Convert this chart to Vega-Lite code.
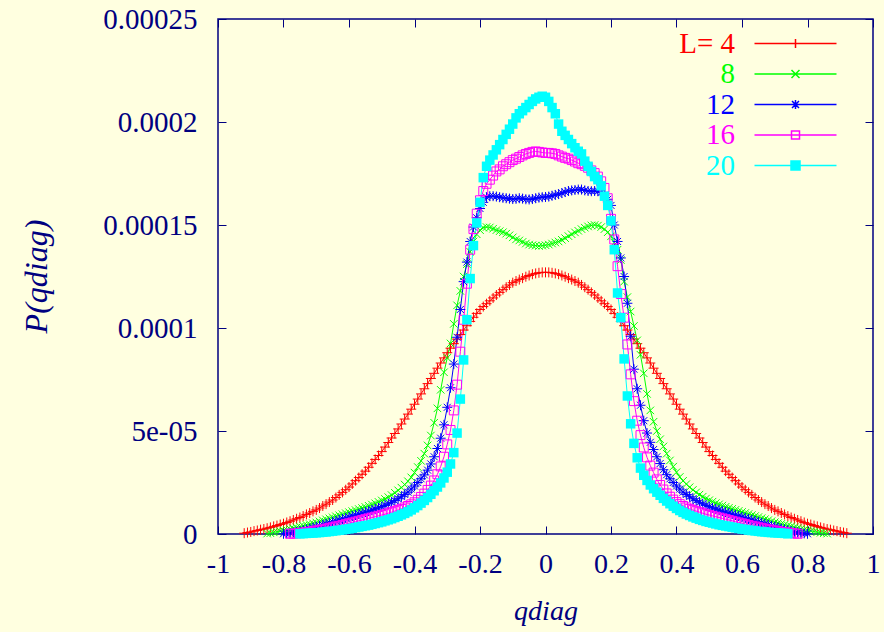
{
"$schema":"https://vega.github.io/schema/vega-lite/v6.json",
"width":655,"height":515,
"autosize":"none",
"padding":{"left":218,"top":19,"right":11,"bottom":98},
"background":"#ffffe0",
"config":{"view":{"stroke":"#000080","strokeWidth":1.5},"font":"Liberation Serif"},
"data":{"values":[
{"L":4,"q":-0.92,"p":0.004e-4},{"L":4,"q":-0.91,"p":0.007e-4},{"L":4,"q":-0.9,"p":0.010e-4},{"L":4,"q":-0.89,"p":0.014e-4},{"L":4,"q":-0.88,"p":0.017e-4},{"L":4,"q":-0.87,"p":0.021e-4},{"L":4,"q":-0.86,"p":0.024e-4},{"L":4,"q":-0.85,"p":0.028e-4},{"L":4,"q":-0.84,"p":0.032e-4},{"L":4,"q":-0.83,"p":0.037e-4},{"L":4,"q":-0.82,"p":0.041e-4},{"L":4,"q":-0.81,"p":0.046e-4},{"L":4,"q":-0.8,"p":0.050e-4},{"L":4,"q":-0.79,"p":0.056e-4},{"L":4,"q":-0.78,"p":0.062e-4},{"L":4,"q":-0.77,"p":0.068e-4},{"L":4,"q":-0.76,"p":0.074e-4},{"L":4,"q":-0.75,"p":0.080e-4},{"L":4,"q":-0.74,"p":0.087e-4},{"L":4,"q":-0.73,"p":0.095e-4},{"L":4,"q":-0.72,"p":0.102e-4},{"L":4,"q":-0.71,"p":0.110e-4},{"L":4,"q":-0.7,"p":0.117e-4},{"L":4,"q":-0.69,"p":0.126e-4},{"L":4,"q":-0.68,"p":0.136e-4},{"L":4,"q":-0.67,"p":0.145e-4},{"L":4,"q":-0.66,"p":0.155e-4},{"L":4,"q":-0.65,"p":0.165e-4},{"L":4,"q":-0.64,"p":0.177e-4},{"L":4,"q":-0.63,"p":0.190e-4},{"L":4,"q":-0.62,"p":0.202e-4},{"L":4,"q":-0.61,"p":0.215e-4},{"L":4,"q":-0.6,"p":0.228e-4},{"L":4,"q":-0.59,"p":0.243e-4},{"L":4,"q":-0.58,"p":0.259e-4},{"L":4,"q":-0.57,"p":0.274e-4},{"L":4,"q":-0.56,"p":0.290e-4},{"L":4,"q":-0.55,"p":0.305e-4},{"L":4,"q":-0.54,"p":0.324e-4},{"L":4,"q":-0.53,"p":0.343e-4},{"L":4,"q":-0.52,"p":0.362e-4},{"L":4,"q":-0.51,"p":0.381e-4},{"L":4,"q":-0.5,"p":0.400e-4},{"L":4,"q":-0.49,"p":0.422e-4},{"L":4,"q":-0.48,"p":0.444e-4},{"L":4,"q":-0.47,"p":0.466e-4},{"L":4,"q":-0.46,"p":0.488e-4},{"L":4,"q":-0.45,"p":0.510e-4},{"L":4,"q":-0.44,"p":0.534e-4},{"L":4,"q":-0.43,"p":0.558e-4},{"L":4,"q":-0.42,"p":0.582e-4},{"L":4,"q":-0.41,"p":0.606e-4},{"L":4,"q":-0.4,"p":0.630e-4},{"L":4,"q":-0.39,"p":0.655e-4},{"L":4,"q":-0.38,"p":0.680e-4},{"L":4,"q":-0.37,"p":0.705e-4},{"L":4,"q":-0.36,"p":0.730e-4},{"L":4,"q":-0.35,"p":0.755e-4},{"L":4,"q":-0.34,"p":0.780e-4},{"L":4,"q":-0.33,"p":0.805e-4},{"L":4,"q":-0.32,"p":0.830e-4},{"L":4,"q":-0.31,"p":0.855e-4},{"L":4,"q":-0.3,"p":0.880e-4},{"L":4,"q":-0.29,"p":0.902e-4},{"L":4,"q":-0.28,"p":0.924e-4},{"L":4,"q":-0.27,"p":0.946e-4},{"L":4,"q":-0.26,"p":0.968e-4},{"L":4,"q":-0.25,"p":0.990e-4},{"L":4,"q":-0.24,"p":1.011e-4},{"L":4,"q":-0.23,"p":1.032e-4},{"L":4,"q":-0.22,"p":1.052e-4},{"L":4,"q":-0.21,"p":1.071e-4},{"L":4,"q":-0.2,"p":1.090e-4},{"L":4,"q":-0.19,"p":1.104e-4},{"L":4,"q":-0.18,"p":1.118e-4},{"L":4,"q":-0.17,"p":1.132e-4},{"L":4,"q":-0.16,"p":1.146e-4},{"L":4,"q":-0.15,"p":1.160e-4},{"L":4,"q":-0.14,"p":1.173e-4},{"L":4,"q":-0.13,"p":1.186e-4},{"L":4,"q":-0.12,"p":1.198e-4},{"L":4,"q":-0.11,"p":1.209e-4},{"L":4,"q":-0.1,"p":1.220e-4},{"L":4,"q":-0.09,"p":1.228e-4},{"L":4,"q":-0.08,"p":1.235e-4},{"L":4,"q":-0.07,"p":1.242e-4},{"L":4,"q":-0.06,"p":1.249e-4},{"L":4,"q":-0.05,"p":1.255e-4},{"L":4,"q":-0.04,"p":1.261e-4},{"L":4,"q":-0.03,"p":1.265e-4},{"L":4,"q":-0.02,"p":1.268e-4},{"L":4,"q":-0.01,"p":1.270e-4},
{"L":4,"q":0,"p":1.270e-4},{"L":4,"q":0.01,"p":1.270e-4},{"L":4,"q":0.02,"p":1.268e-4},{"L":4,"q":0.03,"p":1.265e-4},{"L":4,"q":0.04,"p":1.261e-4},{"L":4,"q":0.05,"p":1.255e-4},{"L":4,"q":0.06,"p":1.249e-4},{"L":4,"q":0.07,"p":1.242e-4},{"L":4,"q":0.08,"p":1.235e-4},{"L":4,"q":0.09,"p":1.228e-4},{"L":4,"q":0.1,"p":1.220e-4},{"L":4,"q":0.11,"p":1.209e-4},{"L":4,"q":0.12,"p":1.198e-4},{"L":4,"q":0.13,"p":1.186e-4},{"L":4,"q":0.14,"p":1.173e-4},{"L":4,"q":0.15,"p":1.160e-4},{"L":4,"q":0.16,"p":1.146e-4},{"L":4,"q":0.17,"p":1.132e-4},{"L":4,"q":0.18,"p":1.118e-4},{"L":4,"q":0.19,"p":1.104e-4},{"L":4,"q":0.2,"p":1.090e-4},{"L":4,"q":0.21,"p":1.071e-4},{"L":4,"q":0.22,"p":1.052e-4},{"L":4,"q":0.23,"p":1.032e-4},{"L":4,"q":0.24,"p":1.011e-4},{"L":4,"q":0.25,"p":0.990e-4},{"L":4,"q":0.26,"p":0.968e-4},{"L":4,"q":0.27,"p":0.946e-4},{"L":4,"q":0.28,"p":0.924e-4},{"L":4,"q":0.29,"p":0.902e-4},{"L":4,"q":0.3,"p":0.880e-4},{"L":4,"q":0.31,"p":0.855e-4},{"L":4,"q":0.32,"p":0.830e-4},{"L":4,"q":0.33,"p":0.805e-4},{"L":4,"q":0.34,"p":0.780e-4},{"L":4,"q":0.35,"p":0.755e-4},{"L":4,"q":0.36,"p":0.730e-4},{"L":4,"q":0.37,"p":0.705e-4},{"L":4,"q":0.38,"p":0.680e-4},{"L":4,"q":0.39,"p":0.655e-4},{"L":4,"q":0.4,"p":0.630e-4},{"L":4,"q":0.41,"p":0.606e-4},{"L":4,"q":0.42,"p":0.582e-4},{"L":4,"q":0.43,"p":0.558e-4},{"L":4,"q":0.44,"p":0.534e-4},{"L":4,"q":0.45,"p":0.510e-4},{"L":4,"q":0.46,"p":0.488e-4},{"L":4,"q":0.47,"p":0.466e-4},{"L":4,"q":0.48,"p":0.444e-4},{"L":4,"q":0.49,"p":0.422e-4},{"L":4,"q":0.5,"p":0.400e-4},{"L":4,"q":0.51,"p":0.381e-4},{"L":4,"q":0.52,"p":0.362e-4},{"L":4,"q":0.53,"p":0.343e-4},{"L":4,"q":0.54,"p":0.324e-4},{"L":4,"q":0.55,"p":0.305e-4},{"L":4,"q":0.56,"p":0.290e-4},{"L":4,"q":0.57,"p":0.274e-4},{"L":4,"q":0.58,"p":0.259e-4},{"L":4,"q":0.59,"p":0.243e-4},{"L":4,"q":0.6,"p":0.228e-4},{"L":4,"q":0.61,"p":0.215e-4},{"L":4,"q":0.62,"p":0.202e-4},{"L":4,"q":0.63,"p":0.190e-4},{"L":4,"q":0.64,"p":0.177e-4},{"L":4,"q":0.65,"p":0.165e-4},{"L":4,"q":0.66,"p":0.155e-4},{"L":4,"q":0.67,"p":0.145e-4},{"L":4,"q":0.68,"p":0.136e-4},{"L":4,"q":0.69,"p":0.126e-4},{"L":4,"q":0.7,"p":0.117e-4},{"L":4,"q":0.71,"p":0.110e-4},{"L":4,"q":0.72,"p":0.102e-4},{"L":4,"q":0.73,"p":0.095e-4},{"L":4,"q":0.74,"p":0.087e-4},{"L":4,"q":0.75,"p":0.080e-4},{"L":4,"q":0.76,"p":0.074e-4},{"L":4,"q":0.77,"p":0.068e-4},{"L":4,"q":0.78,"p":0.062e-4},{"L":4,"q":0.79,"p":0.056e-4},{"L":4,"q":0.8,"p":0.050e-4},{"L":4,"q":0.81,"p":0.046e-4},{"L":4,"q":0.82,"p":0.041e-4},{"L":4,"q":0.83,"p":0.037e-4},{"L":4,"q":0.84,"p":0.032e-4},{"L":4,"q":0.85,"p":0.028e-4},{"L":4,"q":0.86,"p":0.024e-4},{"L":4,"q":0.87,"p":0.021e-4},{"L":4,"q":0.88,"p":0.017e-4},{"L":4,"q":0.89,"p":0.014e-4},{"L":4,"q":0.9,"p":0.010e-4},{"L":4,"q":0.91,"p":0.007e-4},{"L":4,"q":0.92,"p":0.004e-4},
{"L":8,"q":-0.85,"p":0.002e-4},{"L":8,"q":-0.84,"p":0.004e-4},{"L":8,"q":-0.83,"p":0.008e-4},{"L":8,"q":-0.82,"p":0.011e-4},{"L":8,"q":-0.81,"p":0.014e-4},{"L":8,"q":-0.8,"p":0.017e-4},{"L":8,"q":-0.79,"p":0.020e-4},{"L":8,"q":-0.78,"p":0.024e-4},{"L":8,"q":-0.77,"p":0.028e-4},{"L":8,"q":-0.76,"p":0.032e-4},{"L":8,"q":-0.75,"p":0.036e-4},{"L":8,"q":-0.74,"p":0.040e-4},{"L":8,"q":-0.73,"p":0.044e-4},{"L":8,"q":-0.72,"p":0.048e-4},{"L":8,"q":-0.71,"p":0.052e-4},{"L":8,"q":-0.7,"p":0.056e-4},{"L":8,"q":-0.69,"p":0.061e-4},{"L":8,"q":-0.68,"p":0.066e-4},{"L":8,"q":-0.67,"p":0.071e-4},{"L":8,"q":-0.66,"p":0.076e-4},{"L":8,"q":-0.65,"p":0.081e-4},{"L":8,"q":-0.64,"p":0.086e-4},{"L":8,"q":-0.63,"p":0.091e-4},{"L":8,"q":-0.62,"p":0.096e-4},{"L":8,"q":-0.61,"p":0.101e-4},{"L":8,"q":-0.6,"p":0.106e-4},{"L":8,"q":-0.59,"p":0.111e-4},{"L":8,"q":-0.58,"p":0.116e-4},{"L":8,"q":-0.57,"p":0.121e-4},{"L":8,"q":-0.56,"p":0.126e-4},{"L":8,"q":-0.55,"p":0.131e-4},{"L":8,"q":-0.54,"p":0.137e-4},{"L":8,"q":-0.53,"p":0.143e-4},{"L":8,"q":-0.52,"p":0.149e-4},{"L":8,"q":-0.51,"p":0.156e-4},{"L":8,"q":-0.5,"p":0.163e-4},{"L":8,"q":-0.49,"p":0.170e-4},{"L":8,"q":-0.48,"p":0.179e-4},{"L":8,"q":-0.47,"p":0.189e-4},{"L":8,"q":-0.46,"p":0.200e-4},{"L":8,"q":-0.45,"p":0.212e-4},{"L":8,"q":-0.44,"p":0.225e-4},{"L":8,"q":-0.43,"p":0.240e-4},{"L":8,"q":-0.42,"p":0.256e-4},{"L":8,"q":-0.41,"p":0.275e-4},{"L":8,"q":-0.4,"p":0.298e-4},{"L":8,"q":-0.39,"p":0.325e-4},{"L":8,"q":-0.38,"p":0.355e-4},{"L":8,"q":-0.37,"p":0.390e-4},{"L":8,"q":-0.36,"p":0.430e-4},{"L":8,"q":-0.35,"p":0.478e-4},{"L":8,"q":-0.34,"p":0.540e-4},{"L":8,"q":-0.33,"p":0.610e-4},{"L":8,"q":-0.32,"p":0.700e-4},{"L":8,"q":-0.31,"p":0.785e-4},{"L":8,"q":-0.3,"p":0.855e-4},{"L":8,"q":-0.29,"p":0.925e-4},{"L":8,"q":-0.28,"p":1.020e-4},{"L":8,"q":-0.27,"p":1.110e-4},{"L":8,"q":-0.26,"p":1.180e-4},{"L":8,"q":-0.25,"p":1.250e-4},{"L":8,"q":-0.24,"p":1.310e-4},{"L":8,"q":-0.23,"p":1.370e-4},{"L":8,"q":-0.22,"p":1.420e-4},{"L":8,"q":-0.21,"p":1.455e-4},{"L":8,"q":-0.2,"p":1.475e-4},{"L":8,"q":-0.19,"p":1.487e-4},{"L":8,"q":-0.18,"p":1.490e-4},{"L":8,"q":-0.17,"p":1.488e-4},{"L":8,"q":-0.16,"p":1.482e-4},{"L":8,"q":-0.15,"p":1.475e-4},{"L":8,"q":-0.14,"p":1.470e-4},{"L":8,"q":-0.13,"p":1.465e-4},{"L":8,"q":-0.12,"p":1.458e-4},{"L":8,"q":-0.11,"p":1.450e-4},{"L":8,"q":-0.1,"p":1.440e-4},{"L":8,"q":-0.09,"p":1.430e-4},{"L":8,"q":-0.08,"p":1.425e-4},{"L":8,"q":-0.07,"p":1.418e-4},{"L":8,"q":-0.06,"p":1.410e-4},{"L":8,"q":-0.05,"p":1.405e-4},{"L":8,"q":-0.04,"p":1.402e-4},{"L":8,"q":-0.03,"p":1.400e-4},{"L":8,"q":-0.02,"p":1.398e-4},{"L":8,"q":-0.01,"p":1.400e-4},
{"L":8,"q":0,"p":1.402e-4},{"L":8,"q":0.01,"p":1.405e-4},{"L":8,"q":0.02,"p":1.410e-4},{"L":8,"q":0.03,"p":1.415e-4},{"L":8,"q":0.04,"p":1.420e-4},{"L":8,"q":0.05,"p":1.428e-4},{"L":8,"q":0.06,"p":1.436e-4},{"L":8,"q":0.07,"p":1.446e-4},{"L":8,"q":0.08,"p":1.455e-4},{"L":8,"q":0.09,"p":1.464e-4},{"L":8,"q":0.1,"p":1.472e-4},{"L":8,"q":0.11,"p":1.480e-4},{"L":8,"q":0.12,"p":1.487e-4},{"L":8,"q":0.13,"p":1.493e-4},{"L":8,"q":0.14,"p":1.498e-4},{"L":8,"q":0.15,"p":1.500e-4},{"L":8,"q":0.16,"p":1.497e-4},{"L":8,"q":0.17,"p":1.490e-4},{"L":8,"q":0.18,"p":1.480e-4},{"L":8,"q":0.19,"p":1.465e-4},{"L":8,"q":0.2,"p":1.445e-4},{"L":8,"q":0.21,"p":1.415e-4},{"L":8,"q":0.22,"p":1.380e-4},{"L":8,"q":0.23,"p":1.330e-4},{"L":8,"q":0.24,"p":1.225e-4},{"L":8,"q":0.25,"p":1.150e-4},{"L":8,"q":0.26,"p":1.080e-4},{"L":8,"q":0.27,"p":1.010e-4},{"L":8,"q":0.28,"p":0.940e-4},{"L":8,"q":0.29,"p":0.870e-4},{"L":8,"q":0.3,"p":0.780e-4},{"L":8,"q":0.31,"p":0.680e-4},{"L":8,"q":0.32,"p":0.600e-4},{"L":8,"q":0.33,"p":0.545e-4},{"L":8,"q":0.34,"p":0.500e-4},{"L":8,"q":0.35,"p":0.460e-4},{"L":8,"q":0.36,"p":0.425e-4},{"L":8,"q":0.37,"p":0.390e-4},{"L":8,"q":0.38,"p":0.357e-4},{"L":8,"q":0.39,"p":0.327e-4},{"L":8,"q":0.4,"p":0.300e-4},{"L":8,"q":0.41,"p":0.277e-4},{"L":8,"q":0.42,"p":0.258e-4},{"L":8,"q":0.43,"p":0.242e-4},{"L":8,"q":0.44,"p":0.227e-4},{"L":8,"q":0.45,"p":0.214e-4},{"L":8,"q":0.46,"p":0.202e-4},{"L":8,"q":0.47,"p":0.191e-4},{"L":8,"q":0.48,"p":0.181e-4},{"L":8,"q":0.49,"p":0.172e-4},{"L":8,"q":0.5,"p":0.164e-4},{"L":8,"q":0.51,"p":0.157e-4},{"L":8,"q":0.52,"p":0.150e-4},{"L":8,"q":0.53,"p":0.144e-4},{"L":8,"q":0.54,"p":0.138e-4},{"L":8,"q":0.55,"p":0.132e-4},{"L":8,"q":0.56,"p":0.127e-4},{"L":8,"q":0.57,"p":0.122e-4},{"L":8,"q":0.58,"p":0.117e-4},{"L":8,"q":0.59,"p":0.112e-4},{"L":8,"q":0.6,"p":0.107e-4},{"L":8,"q":0.61,"p":0.102e-4},{"L":8,"q":0.62,"p":0.097e-4},{"L":8,"q":0.63,"p":0.092e-4},{"L":8,"q":0.64,"p":0.087e-4},{"L":8,"q":0.65,"p":0.082e-4},{"L":8,"q":0.66,"p":0.077e-4},{"L":8,"q":0.67,"p":0.072e-4},{"L":8,"q":0.68,"p":0.067e-4},{"L":8,"q":0.69,"p":0.062e-4},{"L":8,"q":0.7,"p":0.057e-4},{"L":8,"q":0.71,"p":0.053e-4},{"L":8,"q":0.72,"p":0.049e-4},{"L":8,"q":0.73,"p":0.045e-4},{"L":8,"q":0.74,"p":0.041e-4},{"L":8,"q":0.75,"p":0.037e-4},{"L":8,"q":0.76,"p":0.033e-4},{"L":8,"q":0.77,"p":0.029e-4},{"L":8,"q":0.78,"p":0.025e-4},{"L":8,"q":0.79,"p":0.021e-4},{"L":8,"q":0.8,"p":0.018e-4},{"L":8,"q":0.81,"p":0.015e-4},{"L":8,"q":0.82,"p":0.012e-4},{"L":8,"q":0.83,"p":0.009e-4},{"L":8,"q":0.84,"p":0.006e-4},{"L":8,"q":0.85,"p":0.004e-4},{"L":8,"q":0.86,"p":0.002e-4},
{"L":12,"q":-0.8,"p":0.001e-4},{"L":12,"q":-0.79,"p":0.003e-4},{"L":12,"q":-0.78,"p":0.005e-4},{"L":12,"q":-0.77,"p":0.008e-4},{"L":12,"q":-0.76,"p":0.011e-4},{"L":12,"q":-0.75,"p":0.014e-4},{"L":12,"q":-0.74,"p":0.018e-4},{"L":12,"q":-0.73,"p":0.022e-4},{"L":12,"q":-0.72,"p":0.026e-4},{"L":12,"q":-0.71,"p":0.031e-4},{"L":12,"q":-0.7,"p":0.035e-4},{"L":12,"q":-0.69,"p":0.040e-4},{"L":12,"q":-0.68,"p":0.045e-4},{"L":12,"q":-0.67,"p":0.049e-4},{"L":12,"q":-0.66,"p":0.054e-4},{"L":12,"q":-0.65,"p":0.059e-4},{"L":12,"q":-0.64,"p":0.063e-4},{"L":12,"q":-0.63,"p":0.068e-4},{"L":12,"q":-0.62,"p":0.073e-4},{"L":12,"q":-0.61,"p":0.078e-4},{"L":12,"q":-0.6,"p":0.082e-4},{"L":12,"q":-0.59,"p":0.087e-4},{"L":12,"q":-0.58,"p":0.092e-4},{"L":12,"q":-0.57,"p":0.097e-4},{"L":12,"q":-0.56,"p":0.101e-4},{"L":12,"q":-0.55,"p":0.106e-4},{"L":12,"q":-0.54,"p":0.111e-4},{"L":12,"q":-0.53,"p":0.116e-4},{"L":12,"q":-0.52,"p":0.121e-4},{"L":12,"q":-0.51,"p":0.127e-4},{"L":12,"q":-0.5,"p":0.133e-4},{"L":12,"q":-0.49,"p":0.139e-4},{"L":12,"q":-0.48,"p":0.146e-4},{"L":12,"q":-0.47,"p":0.154e-4},{"L":12,"q":-0.46,"p":0.162e-4},{"L":12,"q":-0.45,"p":0.171e-4},{"L":12,"q":-0.44,"p":0.181e-4},{"L":12,"q":-0.43,"p":0.192e-4},{"L":12,"q":-0.42,"p":0.203e-4},{"L":12,"q":-0.41,"p":0.218e-4},{"L":12,"q":-0.4,"p":0.233e-4},{"L":12,"q":-0.39,"p":0.250e-4},{"L":12,"q":-0.38,"p":0.268e-4},{"L":12,"q":-0.37,"p":0.287e-4},{"L":12,"q":-0.36,"p":0.310e-4},{"L":12,"q":-0.35,"p":0.340e-4},{"L":12,"q":-0.34,"p":0.375e-4},{"L":12,"q":-0.33,"p":0.415e-4},{"L":12,"q":-0.32,"p":0.465e-4},{"L":12,"q":-0.31,"p":0.530e-4},{"L":12,"q":-0.3,"p":0.615e-4},{"L":12,"q":-0.29,"p":0.710e-4},{"L":12,"q":-0.28,"p":0.825e-4},{"L":12,"q":-0.27,"p":0.955e-4},{"L":12,"q":-0.26,"p":1.090e-4},{"L":12,"q":-0.25,"p":1.225e-4},{"L":12,"q":-0.24,"p":1.320e-4},{"L":12,"q":-0.23,"p":1.420e-4},{"L":12,"q":-0.22,"p":1.490e-4},{"L":12,"q":-0.21,"p":1.535e-4},{"L":12,"q":-0.2,"p":1.580e-4},{"L":12,"q":-0.19,"p":1.610e-4},{"L":12,"q":-0.18,"p":1.635e-4},{"L":12,"q":-0.17,"p":1.640e-4},{"L":12,"q":-0.16,"p":1.640e-4},{"L":12,"q":-0.15,"p":1.638e-4},{"L":12,"q":-0.14,"p":1.635e-4},{"L":12,"q":-0.13,"p":1.632e-4},{"L":12,"q":-0.12,"p":1.630e-4},{"L":12,"q":-0.11,"p":1.628e-4},{"L":12,"q":-0.1,"p":1.626e-4},{"L":12,"q":-0.09,"p":1.627e-4},{"L":12,"q":-0.08,"p":1.630e-4},{"L":12,"q":-0.07,"p":1.628e-4},{"L":12,"q":-0.06,"p":1.625e-4},{"L":12,"q":-0.05,"p":1.624e-4},{"L":12,"q":-0.04,"p":1.626e-4},{"L":12,"q":-0.03,"p":1.630e-4},{"L":12,"q":-0.02,"p":1.633e-4},{"L":12,"q":-0.01,"p":1.635e-4},
{"L":12,"q":0,"p":1.636e-4},{"L":12,"q":0.01,"p":1.638e-4},{"L":12,"q":0.02,"p":1.642e-4},{"L":12,"q":0.03,"p":1.646e-4},{"L":12,"q":0.04,"p":1.650e-4},{"L":12,"q":0.05,"p":1.655e-4},{"L":12,"q":0.06,"p":1.660e-4},{"L":12,"q":0.07,"p":1.665e-4},{"L":12,"q":0.08,"p":1.668e-4},{"L":12,"q":0.09,"p":1.670e-4},{"L":12,"q":0.1,"p":1.672e-4},{"L":12,"q":0.11,"p":1.672e-4},{"L":12,"q":0.12,"p":1.668e-4},{"L":12,"q":0.13,"p":1.665e-4},{"L":12,"q":0.14,"p":1.664e-4},{"L":12,"q":0.15,"p":1.665e-4},{"L":12,"q":0.16,"p":1.664e-4},{"L":12,"q":0.17,"p":1.658e-4},{"L":12,"q":0.18,"p":1.645e-4},{"L":12,"q":0.19,"p":1.625e-4},{"L":12,"q":0.2,"p":1.595e-4},{"L":12,"q":0.21,"p":1.500e-4},{"L":12,"q":0.22,"p":1.420e-4},{"L":12,"q":0.23,"p":1.340e-4},{"L":12,"q":0.24,"p":1.250e-4},{"L":12,"q":0.25,"p":1.120e-4},{"L":12,"q":0.26,"p":0.960e-4},{"L":12,"q":0.27,"p":0.800e-4},{"L":12,"q":0.28,"p":0.705e-4},{"L":12,"q":0.29,"p":0.625e-4},{"L":12,"q":0.3,"p":0.550e-4},{"L":12,"q":0.31,"p":0.490e-4},{"L":12,"q":0.32,"p":0.445e-4},{"L":12,"q":0.33,"p":0.410e-4},{"L":12,"q":0.34,"p":0.375e-4},{"L":12,"q":0.35,"p":0.342e-4},{"L":12,"q":0.36,"p":0.312e-4},{"L":12,"q":0.37,"p":0.288e-4},{"L":12,"q":0.38,"p":0.268e-4},{"L":12,"q":0.39,"p":0.250e-4},{"L":12,"q":0.4,"p":0.233e-4},{"L":12,"q":0.41,"p":0.218e-4},{"L":12,"q":0.42,"p":0.203e-4},{"L":12,"q":0.43,"p":0.192e-4},{"L":12,"q":0.44,"p":0.181e-4},{"L":12,"q":0.45,"p":0.171e-4},{"L":12,"q":0.46,"p":0.162e-4},{"L":12,"q":0.47,"p":0.154e-4},{"L":12,"q":0.48,"p":0.146e-4},{"L":12,"q":0.49,"p":0.139e-4},{"L":12,"q":0.5,"p":0.133e-4},{"L":12,"q":0.51,"p":0.127e-4},{"L":12,"q":0.52,"p":0.121e-4},{"L":12,"q":0.53,"p":0.116e-4},{"L":12,"q":0.54,"p":0.111e-4},{"L":12,"q":0.55,"p":0.106e-4},{"L":12,"q":0.56,"p":0.101e-4},{"L":12,"q":0.57,"p":0.097e-4},{"L":12,"q":0.58,"p":0.092e-4},{"L":12,"q":0.59,"p":0.087e-4},{"L":12,"q":0.6,"p":0.082e-4},{"L":12,"q":0.61,"p":0.078e-4},{"L":12,"q":0.62,"p":0.073e-4},{"L":12,"q":0.63,"p":0.068e-4},{"L":12,"q":0.64,"p":0.063e-4},{"L":12,"q":0.65,"p":0.059e-4},{"L":12,"q":0.66,"p":0.054e-4},{"L":12,"q":0.67,"p":0.049e-4},{"L":12,"q":0.68,"p":0.045e-4},{"L":12,"q":0.69,"p":0.040e-4},{"L":12,"q":0.7,"p":0.035e-4},{"L":12,"q":0.71,"p":0.031e-4},{"L":12,"q":0.72,"p":0.026e-4},{"L":12,"q":0.73,"p":0.022e-4},{"L":12,"q":0.74,"p":0.018e-4},{"L":12,"q":0.75,"p":0.014e-4},{"L":12,"q":0.76,"p":0.011e-4},{"L":12,"q":0.77,"p":0.008e-4},{"L":12,"q":0.78,"p":0.005e-4},{"L":12,"q":0.79,"p":0.003e-4},{"L":12,"q":0.8,"p":0.001e-4},
{"L":16,"q":-0.78,"p":0.001e-4},{"L":16,"q":-0.77,"p":0.002e-4},{"L":16,"q":-0.76,"p":0.003e-4},{"L":16,"q":-0.75,"p":0.005e-4},{"L":16,"q":-0.74,"p":0.007e-4},{"L":16,"q":-0.73,"p":0.009e-4},{"L":16,"q":-0.72,"p":0.011e-4},{"L":16,"q":-0.71,"p":0.014e-4},{"L":16,"q":-0.7,"p":0.017e-4},{"L":16,"q":-0.69,"p":0.020e-4},{"L":16,"q":-0.68,"p":0.023e-4},{"L":16,"q":-0.67,"p":0.026e-4},{"L":16,"q":-0.66,"p":0.030e-4},{"L":16,"q":-0.65,"p":0.033e-4},{"L":16,"q":-0.64,"p":0.037e-4},{"L":16,"q":-0.63,"p":0.040e-4},{"L":16,"q":-0.62,"p":0.044e-4},{"L":16,"q":-0.61,"p":0.048e-4},{"L":16,"q":-0.6,"p":0.052e-4},{"L":16,"q":-0.59,"p":0.056e-4},{"L":16,"q":-0.58,"p":0.060e-4},{"L":16,"q":-0.57,"p":0.064e-4},{"L":16,"q":-0.56,"p":0.068e-4},{"L":16,"q":-0.55,"p":0.072e-4},{"L":16,"q":-0.54,"p":0.076e-4},{"L":16,"q":-0.53,"p":0.080e-4},{"L":16,"q":-0.52,"p":0.084e-4},{"L":16,"q":-0.51,"p":0.088e-4},{"L":16,"q":-0.5,"p":0.092e-4},{"L":16,"q":-0.49,"p":0.096e-4},{"L":16,"q":-0.48,"p":0.101e-4},{"L":16,"q":-0.47,"p":0.106e-4},{"L":16,"q":-0.46,"p":0.111e-4},{"L":16,"q":-0.45,"p":0.116e-4},{"L":16,"q":-0.44,"p":0.122e-4},{"L":16,"q":-0.43,"p":0.129e-4},{"L":16,"q":-0.42,"p":0.136e-4},{"L":16,"q":-0.41,"p":0.144e-4},{"L":16,"q":-0.4,"p":0.154e-4},{"L":16,"q":-0.39,"p":0.166e-4},{"L":16,"q":-0.38,"p":0.180e-4},{"L":16,"q":-0.37,"p":0.196e-4},{"L":16,"q":-0.36,"p":0.214e-4},{"L":16,"q":-0.35,"p":0.235e-4},{"L":16,"q":-0.34,"p":0.260e-4},{"L":16,"q":-0.33,"p":0.290e-4},{"L":16,"q":-0.32,"p":0.328e-4},{"L":16,"q":-0.31,"p":0.375e-4},{"L":16,"q":-0.3,"p":0.435e-4},{"L":16,"q":-0.29,"p":0.505e-4},{"L":16,"q":-0.28,"p":0.600e-4},{"L":16,"q":-0.27,"p":0.725e-4},{"L":16,"q":-0.26,"p":0.885e-4},{"L":16,"q":-0.25,"p":1.040e-4},{"L":16,"q":-0.24,"p":1.215e-4},{"L":16,"q":-0.23,"p":1.380e-4},{"L":16,"q":-0.22,"p":1.480e-4},{"L":16,"q":-0.21,"p":1.555e-4},{"L":16,"q":-0.2,"p":1.620e-4},{"L":16,"q":-0.19,"p":1.665e-4},{"L":16,"q":-0.18,"p":1.700e-4},{"L":16,"q":-0.17,"p":1.720e-4},{"L":16,"q":-0.16,"p":1.740e-4},{"L":16,"q":-0.15,"p":1.760e-4},{"L":16,"q":-0.14,"p":1.770e-4},{"L":16,"q":-0.13,"p":1.785e-4},{"L":16,"q":-0.12,"p":1.795e-4},{"L":16,"q":-0.11,"p":1.805e-4},{"L":16,"q":-0.1,"p":1.815e-4},{"L":16,"q":-0.09,"p":1.822e-4},{"L":16,"q":-0.08,"p":1.830e-4},{"L":16,"q":-0.07,"p":1.838e-4},{"L":16,"q":-0.06,"p":1.845e-4},{"L":16,"q":-0.05,"p":1.850e-4},{"L":16,"q":-0.04,"p":1.855e-4},{"L":16,"q":-0.03,"p":1.857e-4},{"L":16,"q":-0.02,"p":1.855e-4},{"L":16,"q":-0.01,"p":1.852e-4},
{"L":16,"q":0,"p":1.850e-4},{"L":16,"q":0.01,"p":1.850e-4},{"L":16,"q":0.02,"p":1.848e-4},{"L":16,"q":0.03,"p":1.845e-4},{"L":16,"q":0.04,"p":1.838e-4},{"L":16,"q":0.05,"p":1.832e-4},{"L":16,"q":0.06,"p":1.826e-4},{"L":16,"q":0.07,"p":1.822e-4},{"L":16,"q":0.08,"p":1.815e-4},{"L":16,"q":0.09,"p":1.808e-4},{"L":16,"q":0.1,"p":1.800e-4},{"L":16,"q":0.11,"p":1.795e-4},{"L":16,"q":0.12,"p":1.787e-4},{"L":16,"q":0.13,"p":1.778e-4},{"L":16,"q":0.14,"p":1.765e-4},{"L":16,"q":0.15,"p":1.752e-4},{"L":16,"q":0.16,"p":1.735e-4},{"L":16,"q":0.17,"p":1.712e-4},{"L":16,"q":0.18,"p":1.680e-4},{"L":16,"q":0.19,"p":1.630e-4},{"L":16,"q":0.2,"p":1.530e-4},{"L":16,"q":0.21,"p":1.430e-4},{"L":16,"q":0.22,"p":1.300e-4},{"L":16,"q":0.23,"p":1.165e-4},{"L":16,"q":0.24,"p":1.050e-4},{"L":16,"q":0.25,"p":0.920e-4},{"L":16,"q":0.26,"p":0.775e-4},{"L":16,"q":0.27,"p":0.645e-4},{"L":16,"q":0.28,"p":0.550e-4},{"L":16,"q":0.29,"p":0.480e-4},{"L":16,"q":0.3,"p":0.420e-4},{"L":16,"q":0.31,"p":0.372e-4},{"L":16,"q":0.32,"p":0.332e-4},{"L":16,"q":0.33,"p":0.298e-4},{"L":16,"q":0.34,"p":0.265e-4},{"L":16,"q":0.35,"p":0.238e-4},{"L":16,"q":0.36,"p":0.216e-4},{"L":16,"q":0.37,"p":0.197e-4},{"L":16,"q":0.38,"p":0.181e-4},{"L":16,"q":0.39,"p":0.167e-4},{"L":16,"q":0.4,"p":0.155e-4},{"L":16,"q":0.41,"p":0.145e-4},{"L":16,"q":0.42,"p":0.136e-4},{"L":16,"q":0.43,"p":0.129e-4},{"L":16,"q":0.44,"p":0.122e-4},{"L":16,"q":0.45,"p":0.116e-4},{"L":16,"q":0.46,"p":0.111e-4},{"L":16,"q":0.47,"p":0.106e-4},{"L":16,"q":0.48,"p":0.101e-4},{"L":16,"q":0.49,"p":0.096e-4},{"L":16,"q":0.5,"p":0.092e-4},{"L":16,"q":0.51,"p":0.088e-4},{"L":16,"q":0.52,"p":0.084e-4},{"L":16,"q":0.53,"p":0.080e-4},{"L":16,"q":0.54,"p":0.076e-4},{"L":16,"q":0.55,"p":0.072e-4},{"L":16,"q":0.56,"p":0.068e-4},{"L":16,"q":0.57,"p":0.064e-4},{"L":16,"q":0.58,"p":0.060e-4},{"L":16,"q":0.59,"p":0.056e-4},{"L":16,"q":0.6,"p":0.052e-4},{"L":16,"q":0.61,"p":0.048e-4},{"L":16,"q":0.62,"p":0.044e-4},{"L":16,"q":0.63,"p":0.040e-4},{"L":16,"q":0.64,"p":0.037e-4},{"L":16,"q":0.65,"p":0.033e-4},{"L":16,"q":0.66,"p":0.030e-4},{"L":16,"q":0.67,"p":0.026e-4},{"L":16,"q":0.68,"p":0.023e-4},{"L":16,"q":0.69,"p":0.020e-4},{"L":16,"q":0.7,"p":0.017e-4},{"L":16,"q":0.71,"p":0.014e-4},{"L":16,"q":0.72,"p":0.011e-4},{"L":16,"q":0.73,"p":0.009e-4},{"L":16,"q":0.74,"p":0.007e-4},{"L":16,"q":0.75,"p":0.005e-4},{"L":16,"q":0.76,"p":0.003e-4},{"L":16,"q":0.77,"p":0.001e-4},
{"L":20,"q":-0.75,"p":0.001e-4},{"L":20,"q":-0.74,"p":0.002e-4},{"L":20,"q":-0.73,"p":0.003e-4},{"L":20,"q":-0.72,"p":0.004e-4},{"L":20,"q":-0.71,"p":0.005e-4},{"L":20,"q":-0.7,"p":0.006e-4},{"L":20,"q":-0.69,"p":0.007e-4},{"L":20,"q":-0.68,"p":0.009e-4},{"L":20,"q":-0.67,"p":0.010e-4},{"L":20,"q":-0.66,"p":0.012e-4},{"L":20,"q":-0.65,"p":0.014e-4},{"L":20,"q":-0.64,"p":0.016e-4},{"L":20,"q":-0.63,"p":0.018e-4},{"L":20,"q":-0.62,"p":0.020e-4},{"L":20,"q":-0.61,"p":0.023e-4},{"L":20,"q":-0.6,"p":0.025e-4},{"L":20,"q":-0.59,"p":0.028e-4},{"L":20,"q":-0.58,"p":0.031e-4},{"L":20,"q":-0.57,"p":0.034e-4},{"L":20,"q":-0.56,"p":0.037e-4},{"L":20,"q":-0.55,"p":0.040e-4},{"L":20,"q":-0.54,"p":0.043e-4},{"L":20,"q":-0.53,"p":0.047e-4},{"L":20,"q":-0.52,"p":0.051e-4},{"L":20,"q":-0.51,"p":0.055e-4},{"L":20,"q":-0.5,"p":0.059e-4},{"L":20,"q":-0.49,"p":0.064e-4},{"L":20,"q":-0.48,"p":0.069e-4},{"L":20,"q":-0.47,"p":0.074e-4},{"L":20,"q":-0.46,"p":0.080e-4},{"L":20,"q":-0.45,"p":0.086e-4},{"L":20,"q":-0.44,"p":0.093e-4},{"L":20,"q":-0.43,"p":0.100e-4},{"L":20,"q":-0.42,"p":0.108e-4},{"L":20,"q":-0.41,"p":0.117e-4},{"L":20,"q":-0.4,"p":0.127e-4},{"L":20,"q":-0.39,"p":0.138e-4},{"L":20,"q":-0.38,"p":0.150e-4},{"L":20,"q":-0.37,"p":0.163e-4},{"L":20,"q":-0.36,"p":0.177e-4},{"L":20,"q":-0.35,"p":0.193e-4},{"L":20,"q":-0.34,"p":0.210e-4},{"L":20,"q":-0.33,"p":0.228e-4},{"L":20,"q":-0.32,"p":0.248e-4},{"L":20,"q":-0.31,"p":0.272e-4},{"L":20,"q":-0.3,"p":0.300e-4},{"L":20,"q":-0.29,"p":0.340e-4},{"L":20,"q":-0.28,"p":0.395e-4},{"L":20,"q":-0.27,"p":0.490e-4},{"L":20,"q":-0.26,"p":0.655e-4},{"L":20,"q":-0.25,"p":0.845e-4},{"L":20,"q":-0.24,"p":1.040e-4},{"L":20,"q":-0.23,"p":1.240e-4},{"L":20,"q":-0.22,"p":1.400e-4},{"L":20,"q":-0.21,"p":1.510e-4},{"L":20,"q":-0.2,"p":1.610e-4},{"L":20,"q":-0.19,"p":1.730e-4},{"L":20,"q":-0.18,"p":1.785e-4},{"L":20,"q":-0.17,"p":1.815e-4},{"L":20,"q":-0.16,"p":1.840e-4},{"L":20,"q":-0.15,"p":1.865e-4},{"L":20,"q":-0.14,"p":1.890e-4},{"L":20,"q":-0.13,"p":1.915e-4},{"L":20,"q":-0.12,"p":1.940e-4},{"L":20,"q":-0.11,"p":1.965e-4},{"L":20,"q":-0.1,"p":1.990e-4},{"L":20,"q":-0.09,"p":2.020e-4},{"L":20,"q":-0.08,"p":2.040e-4},{"L":20,"q":-0.07,"p":2.055e-4},{"L":20,"q":-0.06,"p":2.070e-4},{"L":20,"q":-0.05,"p":2.085e-4},{"L":20,"q":-0.04,"p":2.100e-4},{"L":20,"q":-0.03,"p":2.112e-4},{"L":20,"q":-0.02,"p":2.120e-4},{"L":20,"q":-0.01,"p":2.125e-4},
{"L":20,"q":0,"p":2.120e-4},{"L":20,"q":0.01,"p":2.100e-4},{"L":20,"q":0.02,"p":2.070e-4},{"L":20,"q":0.03,"p":2.040e-4},{"L":20,"q":0.04,"p":1.990e-4},{"L":20,"q":0.05,"p":1.955e-4},{"L":20,"q":0.06,"p":1.935e-4},{"L":20,"q":0.07,"p":1.915e-4},{"L":20,"q":0.08,"p":1.895e-4},{"L":20,"q":0.09,"p":1.875e-4},{"L":20,"q":0.1,"p":1.858e-4},{"L":20,"q":0.11,"p":1.845e-4},{"L":20,"q":0.12,"p":1.810e-4},{"L":20,"q":0.13,"p":1.785e-4},{"L":20,"q":0.14,"p":1.760e-4},{"L":20,"q":0.15,"p":1.735e-4},{"L":20,"q":0.16,"p":1.720e-4},{"L":20,"q":0.17,"p":1.690e-4},{"L":20,"q":0.18,"p":1.640e-4},{"L":20,"q":0.19,"p":1.595e-4},{"L":20,"q":0.2,"p":1.520e-4},{"L":20,"q":0.21,"p":1.380e-4},{"L":20,"q":0.22,"p":1.170e-4},{"L":20,"q":0.23,"p":1.050e-4},{"L":20,"q":0.24,"p":0.850e-4},{"L":20,"q":0.25,"p":0.670e-4},{"L":20,"q":0.26,"p":0.535e-4},{"L":20,"q":0.27,"p":0.440e-4},{"L":20,"q":0.28,"p":0.370e-4},{"L":20,"q":0.29,"p":0.320e-4},{"L":20,"q":0.3,"p":0.285e-4},{"L":20,"q":0.31,"p":0.260e-4},{"L":20,"q":0.32,"p":0.238e-4},{"L":20,"q":0.33,"p":0.220e-4},{"L":20,"q":0.34,"p":0.203e-4},{"L":20,"q":0.35,"p":0.188e-4},{"L":20,"q":0.36,"p":0.173e-4},{"L":20,"q":0.37,"p":0.160e-4},{"L":20,"q":0.38,"p":0.147e-4},{"L":20,"q":0.39,"p":0.135e-4},{"L":20,"q":0.4,"p":0.124e-4},{"L":20,"q":0.41,"p":0.114e-4},{"L":20,"q":0.42,"p":0.105e-4},{"L":20,"q":0.43,"p":0.097e-4},{"L":20,"q":0.44,"p":0.090e-4},{"L":20,"q":0.45,"p":0.083e-4},{"L":20,"q":0.46,"p":0.077e-4},{"L":20,"q":0.47,"p":0.071e-4},{"L":20,"q":0.48,"p":0.066e-4},{"L":20,"q":0.49,"p":0.061e-4},{"L":20,"q":0.5,"p":0.057e-4},{"L":20,"q":0.51,"p":0.053e-4},{"L":20,"q":0.52,"p":0.049e-4},{"L":20,"q":0.53,"p":0.045e-4},{"L":20,"q":0.54,"p":0.042e-4},{"L":20,"q":0.55,"p":0.039e-4},{"L":20,"q":0.56,"p":0.036e-4},{"L":20,"q":0.57,"p":0.033e-4},{"L":20,"q":0.58,"p":0.030e-4},{"L":20,"q":0.59,"p":0.027e-4},{"L":20,"q":0.6,"p":0.024e-4},{"L":20,"q":0.61,"p":0.022e-4},{"L":20,"q":0.62,"p":0.019e-4},{"L":20,"q":0.63,"p":0.017e-4},{"L":20,"q":0.64,"p":0.015e-4},{"L":20,"q":0.65,"p":0.013e-4},{"L":20,"q":0.66,"p":0.011e-4},{"L":20,"q":0.67,"p":0.010e-4},{"L":20,"q":0.68,"p":0.008e-4},{"L":20,"q":0.69,"p":0.007e-4},{"L":20,"q":0.7,"p":0.006e-4},{"L":20,"q":0.71,"p":0.005e-4},{"L":20,"q":0.72,"p":0.004e-4},{"L":20,"q":0.73,"p":0.003e-4},{"L":20,"q":0.74,"p":0.001e-4}
]},
"layer":[
{"mark":{"type":"line","strokeWidth":1},
 "encoding":{
  "x":{"field":"q","type":"quantitative","scale":{"domain":[-1,1],"nice":false},
   "axis":{"orient":"bottom","values":[-1,-0.8,-0.6,-0.4,-0.2,0,0.2,0.4,0.6,0.8,1],"grid":false,"domain":false,"tickSize":-8,"tickColor":"#000080","tickWidth":1,"labelFont":"Liberation Serif","labelFontSize":28,"labelColor":"#000080","labelPadding":24,"labelFlush":false,"labelOverlap":false,"labelExpr":"(datum.value < 0 ? '-' : '') + format(abs(datum.value), '~g')","title":"qdiag","titleFont":"Liberation Serif","titleFontStyle":"italic","titleFontWeight":"normal","titleFontSize":28,"titleColor":"#000080","titleBaseline":"alphabetic","titleY":85}},
  "y":{"field":"p","type":"quantitative","scale":{"domain":[0,0.00025],"nice":false},
   "axis":{"orient":"left","values":[0,0.00005,0.0001,0.00015,0.0002,0.00025],"grid":false,"domain":false,"tickSize":-8,"tickColor":"#000080","tickWidth":1,"labelFont":"Liberation Serif","labelFontSize":29,"labelColor":"#000080","labelPadding":29,"labelFlush":false,"labelOverlap":false,"labelExpr":"datum.value == 0 ? '0' : (abs(datum.value - 0.00005) < 1e-10 ? '5e-05' : format(datum.value, '~g'))","title":"P(qdiag)","titleFont":"Liberation Serif","titleFontStyle":"italic","titleFontWeight":"normal","titleFontSize":32,"titleColor":"#000080","titleAngle":-90,"titleBaseline":"alphabetic","titleX":-172,"titleY":257}},
  "color":{"field":"L","type":"nominal","scale":{"domain":[4,8,12,16,20],"range":["#ff0000","#00ff00","#0000ff","#ff00ff","#00ffff"]},
   "legend":{"title":null,"orient":"none","legendX":563,"legendY":10,"padding":0,"rowPadding":0.5,"symbolSize":400,"symbolStrokeWidth":1.5,"symbolOpacity":1,"labelFont":"Liberation Serif","labelFontSize":29,"labelLimit":300,"labelExpr":"datum.label == '4' ? 'L= 4' : datum.label",
    "encode":{"labels":{"update":{"x":{"value":-46},"align":{"value":"right"},"fill":{"signal":"datum.value == 4 ? '#ff0000' : datum.value == 8 ? '#00ff00' : datum.value == 12 ? '#0000ff' : datum.value == 16 ? '#ff00ff' : '#00ffff'"}}},
     "symbols":{"update":{"shape":{"signal":"datum.value == 4 ? 'M-4.1,0H4.1M0,-0.45V0.45' : datum.value == 8 ? 'M-4.1,0H4.1M-0.4,-0.4L0.4,0.4M-0.4,0.4L0.4,-0.4' : datum.value == 12 ? 'M-4.1,0H4.1M0,-0.45V0.45M-0.35,-0.35L0.35,0.35M-0.35,0.35L0.35,-0.35' : datum.value == 16 ? 'M-4.1,0H4.1M-0.4,-0.4H0.4V0.4H-0.4Z' : 'M-4.1,0H4.1M-0.45,-0.45H0.45V0.45H-0.45Z'"},"size":{"value":400},"opacity":{"value":1},"strokeWidth":{"value":1.5},"stroke":{"signal":"datum.value == 4 ? '#ff0000' : datum.value == 8 ? '#00ff00' : datum.value == 12 ? '#0000ff' : datum.value == 16 ? '#ff00ff' : '#00ffff'"},"fill":{"signal":"datum.value == 20 ? '#00ffff' : 'transparent'"}}}}}}
 }},
{"transform":[{"filter":"datum.L == 4"}],
 "mark":{"type":"point","shape":"M-1,0H1M0,-1V1","filled":false,"stroke":"#ff0000","strokeWidth":1,"size":100,"opacity":1},
 "encoding":{"x":{"field":"q","type":"quantitative","scale":{"domain":[-1,1],"nice":false},"axis":null},"y":{"field":"p","type":"quantitative","scale":{"domain":[0,0.00025],"nice":false},"axis":null}}},
{"transform":[{"filter":"datum.L == 8"}],
 "mark":{"type":"point","shape":"M-0.75,-0.75L0.75,0.75M-0.75,0.75L0.75,-0.75","filled":false,"stroke":"#00ff00","strokeWidth":1,"size":100,"opacity":1},
 "encoding":{"x":{"field":"q","type":"quantitative","scale":{"domain":[-1,1],"nice":false},"axis":null},"y":{"field":"p","type":"quantitative","scale":{"domain":[0,0.00025],"nice":false},"axis":null}}},
{"transform":[{"filter":"datum.L == 12"}],
 "mark":{"type":"point","shape":"M-1,0H1M0,-1V1M-0.7,-0.7L0.7,0.7M-0.7,0.7L0.7,-0.7","filled":false,"stroke":"#0000ff","strokeWidth":1,"size":100,"opacity":1},
 "encoding":{"x":{"field":"q","type":"quantitative","scale":{"domain":[-1,1],"nice":false},"axis":null},"y":{"field":"p","type":"quantitative","scale":{"domain":[0,0.00025],"nice":false},"axis":null}}},
{"transform":[{"filter":"datum.L == 16"}],
 "mark":{"type":"point","shape":"square","filled":false,"stroke":"#ff00ff","strokeWidth":1,"size":80,"opacity":1},
 "encoding":{"x":{"field":"q","type":"quantitative","scale":{"domain":[-1,1],"nice":false},"axis":null},"y":{"field":"p","type":"quantitative","scale":{"domain":[0,0.00025],"nice":false},"axis":null}}},
{"transform":[{"filter":"datum.L == 20"}],
 "mark":{"type":"point","shape":"square","filled":true,"fill":"#00ffff","strokeWidth":0,"size":90,"opacity":1},
 "encoding":{"x":{"field":"q","type":"quantitative","scale":{"domain":[-1,1],"nice":false},"axis":null},"y":{"field":"p","type":"quantitative","scale":{"domain":[0,0.00025],"nice":false},"axis":null}}},
{"mark":{"type":"point","opacity":0},
 "encoding":{
  "x":{"field":"q","type":"quantitative","scale":{"domain":[-1,1],"nice":false},
   "axis":{"orient":"top","values":[-1,-0.8,-0.6,-0.4,-0.2,0,0.2,0.4,0.6,0.8,1],"grid":false,"domain":false,"labels":false,"title":null,"tickSize":-8,"tickColor":"#000080","tickWidth":1}},
  "y":{"field":"p","type":"quantitative","scale":{"domain":[0,0.00025],"nice":false},
   "axis":{"orient":"right","values":[0,0.00005,0.0001,0.00015,0.0002,0.00025],"grid":false,"domain":false,"labels":false,"title":null,"tickSize":-8,"tickColor":"#000080","tickWidth":1}}
 }}
],
"resolve":{"scale":{"x":"independent","y":"independent"}}
}
